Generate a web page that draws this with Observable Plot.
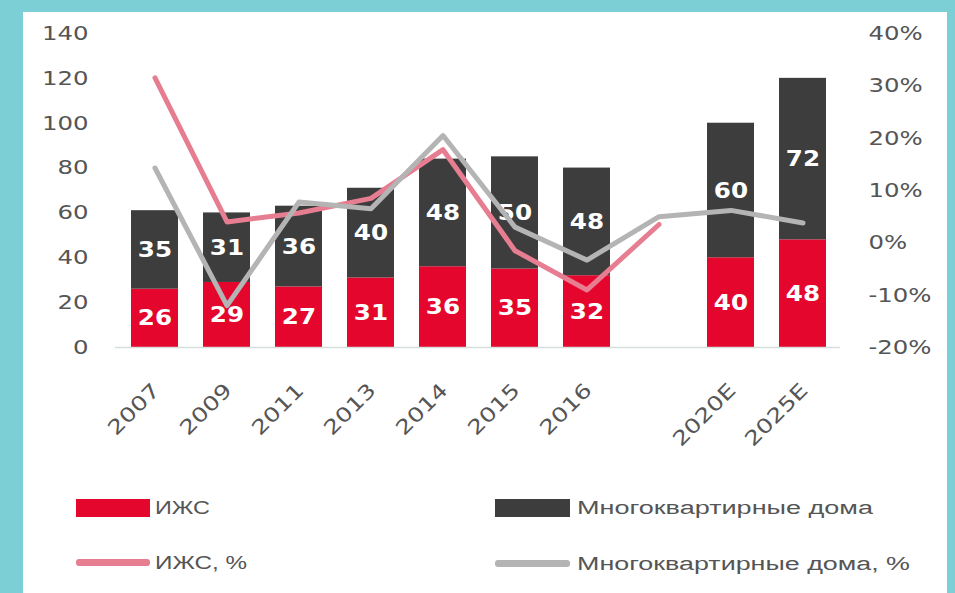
<!DOCTYPE html>
<html><head><meta charset="utf-8">
<script src="https://cdn.jsdelivr.net/npm/d3@7"></script>
<script src="https://cdn.jsdelivr.net/npm/@observablehq/plot@0.6"></script>
<style>
html,body{margin:0;padding:0;background:#7ccfd5;width:955px;height:593px;overflow:hidden;}
#panel{position:absolute;left:23px;top:12px;width:924px;height:581px;background:#fff;}
#chart{position:absolute;left:0;top:0;}
.leg{position:absolute;font-family:"Liberation Sans";font-size:18px;color:#555;white-space:nowrap;transform-origin:0 50%;line-height:18px;}
.sw{position:absolute;}
</style></head><body>
<div id="panel"></div>
<div id="chart"></div>
<div class="sw" style="left:76px;top:499px;width:74px;height:18px;background:#e4062d"></div>
<div class="sw" style="left:495px;top:499px;width:75px;height:18px;background:#3d3d3d"></div>
<div class="sw" style="left:76px;top:559px;width:74px;height:7px;background:#e77d91;border-radius:3px"></div>
<div class="sw" style="left:495px;top:560px;width:75px;height:7px;background:#b4b4b4;border-radius:3px"></div>
<span class="leg" data-w="55" style="left:155px;top:499px">ИЖС</span>
<span class="leg" data-w="296" style="left:577px;top:499px">Многоквартирные дома</span>
<span class="leg" data-w="92" style="left:155px;top:554px">ИЖС, %</span>
<span class="leg" data-w="333" style="left:577px;top:555px">Многоквартирные дома, %</span>
<script>
const categories = ["2007","2009","2011","2013","2014","2015","2016","","2020E","2025E"];
const izhs = [26,29,27,31,36,35,32,null,40,48];
const mkd = [35,31,36,40,48,50,48,null,60,72];
const izhsPct = [31.5,4,5.7,8.5,17.8,-1.5,-9,3.5,null,null];
const mkdPct = [14.3,-12,7.8,6.5,20.5,3,-3.3,5,6.2,3.8];
const leftTicks = [0,20,40,60,80,100,120,140];
const rightTicks = [-20,-10,0,10,20,30,40];
const seriesNames = ["ИЖС","Многоквартирные дома"];

// map the right-axis percentage onto the left-axis value range (-20%..40% -> 0..140)
const pctToY = p => (p + 20) / 60 * 140;
const yToPct = v => Math.round(v * 60 / 140 - 20);

const rows = categories.flatMap((c, i) => izhs[i] == null ? [] : [
  {cat: c, series: seriesNames[0], value: izhs[i]},
  {cat: c, series: seriesNames[1], value: mkd[i]}
]);
const pinkLine = categories.map((c, i) => ({cat: c, v: izhsPct[i]})).filter(d => d.v != null);
const grayLine = categories.map((c, i) => ({cat: c, v: mkdPct[i]})).filter(d => d.v != null);
const xLabels = categories.filter(c => c !== "");

const svg = Plot.plot({
  width: 955, height: 470,
  marginTop: 33, marginBottom: 123, marginLeft: 122, marginRight: 121,
  style: {fontFamily: "DejaVu Sans", fontSize: "20px", color: "#555", background: "transparent"},
  x: {domain: categories, paddingInner: 0.35, paddingOuter: 0.1, axis: null},
  y: {domain: [0, 140], axis: null},
  color: {domain: seriesNames, range: ["#e4062d", "#3d3d3d"]},
  marks: [
    Plot.barY(rows, {x: "cat", y: "value", fill: "series"}),
    Plot.ruleY([0], {stroke: "#d6dede", strokeWidth: 1.5, insetLeft: -7, insetRight: -6}),
    Plot.text(rows, Plot.stackY({x: "cat", y: "value", text: d => String(d.value), fill: "white",
      fontWeight: "bold", fontSize: 22})),
    Plot.line(pinkLine, {x: "cat", y: d => pctToY(d.v), stroke: "#e77d91", strokeWidth: 5}),
    Plot.line(grayLine, {x: "cat", y: d => pctToY(d.v), stroke: "#b4b4b4", strokeWidth: 5}),
    Plot.axisY(leftTicks, {anchor: "left", tickSize: 0, tickPadding: 34, label: null,
      tickFormat: d => String(d), fontSize: 20, fill: "#555"}),
    Plot.axisY(rightTicks.map(pctToY), {anchor: "right", tickSize: 0, tickPadding: 34, label: null,
      tickFormat: d => yToPct(d) + "%", fontSize: 20, fill: "#555"}),
    Plot.text(xLabels, {x: d => d, text: d => d, frameAnchor: "bottom", rotate: -45,
      textAnchor: "end", lineAnchor: "bottom", dx: 6, dy: 44, fontSize: 20, fill: "#555"})
  ]
});

// horizontally widen glyphs to match the reference's stretched lettering
function widenEl(t, s) {
  const tr = t.getAttribute("transform") || "";
  t.setAttribute("transform", tr + ` scale(${s},1)`);
}
svg.querySelectorAll("text").forEach(t => {
  const tr = t.getAttribute("transform") || "";
  const g = t.closest("g");
  if (/rotate/.test(tr)) widenEl(t, 1.25);                          // x labels
  else if (g && g.getAttribute("aria-label") === "y-axis tick label") widenEl(t, 1.22);
  else if (g && g.getAttribute("fill") === "white") widenEl(t, 1.12);  // bar labels
});

document.getElementById("chart").appendChild(svg);

document.querySelectorAll(".leg").forEach(el => {
  const w = el.getBoundingClientRect().width;
  el.style.transform = `scaleX(${(+el.dataset.w) / w})`;
});
</script>
</body></html>
